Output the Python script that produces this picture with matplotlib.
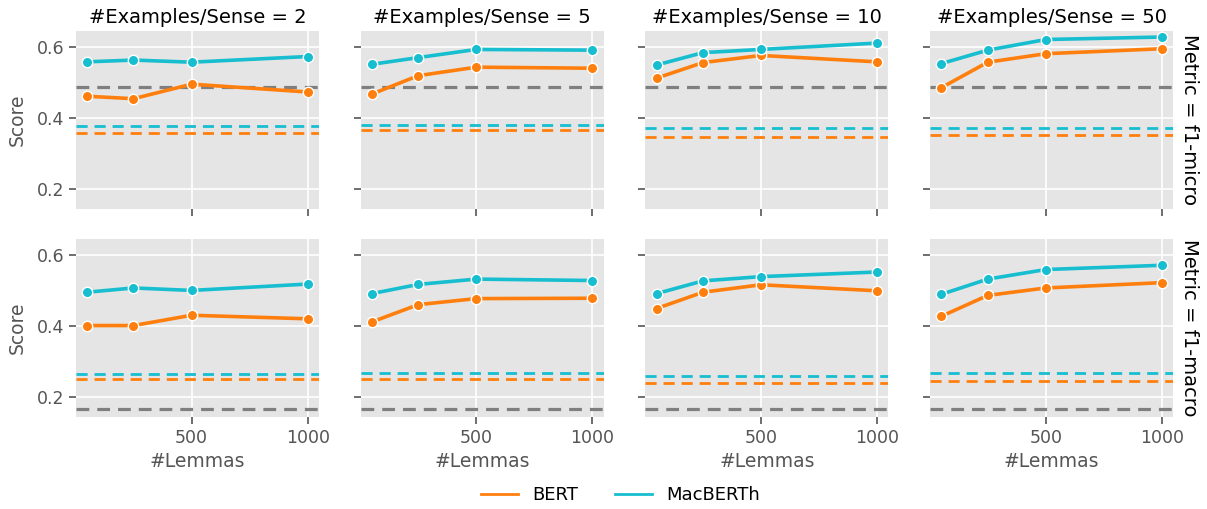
import matplotlib; matplotlib.use("Agg")
import matplotlib.pyplot as plt
from matplotlib.lines import Line2D

# data
lemmas = [50, 250, 500, 1000]
senses = [2, 5, 10, 50]
metrics = ["f1-micro", "f1-macro"]

bert_micro = [[0.461, 0.454, 0.495, 0.473],
              [0.467, 0.519, 0.543, 0.540],
              [0.512, 0.556, 0.576, 0.558],
              [0.485, 0.557, 0.581, 0.595]]
macberth_micro = [[0.558, 0.563, 0.557, 0.573],
                  [0.551, 0.570, 0.593, 0.591],
                  [0.549, 0.584, 0.593, 0.611],
                  [0.553, 0.591, 0.621, 0.628]]
bert_macro = [[0.401, 0.401, 0.430, 0.420],
              [0.411, 0.460, 0.477, 0.478],
              [0.449, 0.495, 0.516, 0.499],
              [0.427, 0.486, 0.507, 0.522]]
macberth_macro = [[0.495, 0.507, 0.500, 0.518],
                  [0.491, 0.517, 0.532, 0.528],
                  [0.491, 0.527, 0.539, 0.552],
                  [0.489, 0.532, 0.559, 0.571]]

# dashed reference levels
bert_base_micro = [0.358, 0.365, 0.345, 0.352]
macberth_base_micro = [0.378, 0.380, 0.370, 0.372]
bert_base_macro = [0.249, 0.251, 0.238, 0.244]
macberth_base_macro = [0.265, 0.267, 0.260, 0.268]
gray_base = [0.486, 0.166]

ORANGE, CYAN, GRAY = "#ff7f0e", "#17becf", "#7f7f7f"
TXT = "#555555"

plt.rcParams["font.family"] = "DejaVu Sans"
fig, axes = plt.subplots(2, 4, figsize=(12.07, 5.09), dpi=100, sharex=True, sharey=True)
fig.subplots_adjust(left=76/1207, right=1173/1207, top=1-31/509, bottom=1-417/509,
                    wspace=0.173, hspace=0.169)

rows = [(bert_micro, macberth_micro, bert_base_micro, macberth_base_micro),
        (bert_macro, macberth_macro, bert_base_macro, macberth_base_macro)]

for r, (b, m, bb, mb) in enumerate(rows):
    for c in range(4):
        ax = axes[r, c]
        ax.set_facecolor("#e5e5e5")
        for s in ax.spines.values(): s.set_visible(False)
        ax.grid(True, color="white", lw=1.2)
        ax.set_axisbelow(True)
        ax.axhline(gray_base[r], color=GRAY, ls=(0, (4, 2.5)), lw=2.3)
        ax.axhline(mb[c], color=CYAN, ls=(0, (4, 2.5)), lw=2)
        ax.axhline(bb[c], color=ORANGE, ls=(0, (4, 2.5)), lw=2)
        ax.plot(lemmas, b[c], "o-", color=ORANGE, lw=2.6, ms=7.5, mec="white", mew=1)
        ax.plot(lemmas, m[c], "o-", color=CYAN, lw=2.6, ms=7.5, mec="white", mew=1)
        ax.set_xticks([500, 1000]); ax.set_yticks([0.2, 0.4, 0.6])
        ax.set_ylim(0.143, 0.645)
        ax.tick_params(colors=TXT, labelsize=12.5, length=5, width=1.2, labelcolor=TXT)
        if r == 0:
            ax.set_title(f"#Examples/Sense = {senses[c]}", fontsize=14, color="black")
        else:
            ax.set_xlabel("#Lemmas", fontsize=13.5, color=TXT)
        if c == 0:
            ax.set_ylabel("Score", fontsize=13.5, color=TXT, labelpad=7)
        if c == 3:
            ax.text(1.03, 0.5, f"Metric = {metrics[r]}", transform=ax.transAxes, rotation=270,
                    va="center", ha="left", fontsize=14, color="black")

handles = [Line2D([], [], color=ORANGE, lw=2), Line2D([], [], color=CYAN, lw=2)]
fig.legend(handles, ["BERT", "MacBERTh"], loc="center", bbox_to_anchor=(620.5/1207, 1-495/509),
           ncol=2, frameon=False, fontsize=13, handlelength=2.05, handletextpad=0.8,
           columnspacing=2.0)

fig.savefig("out.png", dpi=100)
